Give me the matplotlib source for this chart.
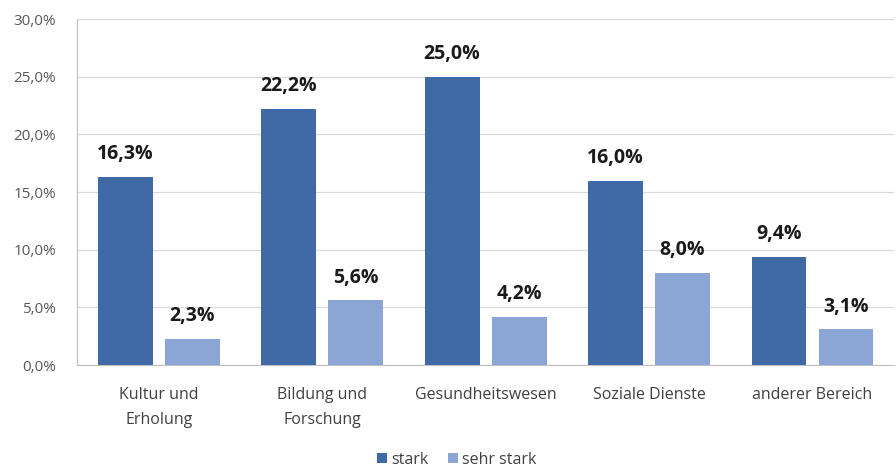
import numpy as np
import matplotlib.pyplot as plt
from matplotlib.ticker import FuncFormatter

plt.rcParams['font.family'] = ['Open Sans', 'DejaVu Sans']

categories = ["Kultur und\nErholung", "Bildung und\nForschung", "Gesundheitswesen",
              "Soziale Dienste", "anderer Bereich"]
stark = [16.3, 22.2, 25.0, 16.0, 9.4]
sehr_stark = [2.3, 5.6, 4.2, 8.0, 3.1]

c_stark = "#3f6aa6"
c_sehr = "#8ba6d4"

fig = plt.figure(figsize=(8.96, 4.68), dpi=100)
ax = fig.add_axes([0.086, 0.22, 0.912, 0.739])

x = np.arange(len(categories))
w = 0.335
off = 0.205
b1 = ax.bar(x - off, stark, w, color=c_stark, label="stark", zorder=3)
b2 = ax.bar(x + off, sehr_stark, w, color=c_sehr, label="sehr stark", zorder=3)

fmt = lambda v: f"{v:.1f}%".replace(".", ",")
for bars, vals in ((b1, stark), (b2, sehr_stark)):
    for r, v in zip(bars, vals):
        ax.text(r.get_x() + r.get_width() / 2, v + 1.1, fmt(v), ha="center", va="bottom",
                fontsize=14, fontweight="bold", color="#1a1a1a")

ax.set_xlim(-0.5, len(categories) - 0.5)
ax.set_ylim(0, 30)
ax.set_yticks(np.arange(0, 31, 5))
ax.yaxis.set_major_formatter(FuncFormatter(lambda v, p: fmt(v)))
ax.set_xticks(x)
ax.set_xticklabels(categories, fontsize=11.5, color="#404040", linespacing=1.7)
ax.tick_params(axis="y", labelsize=11, colors="#595959", length=0, pad=15)
ax.tick_params(axis="x", length=0, pad=16)
ax.grid(axis="y", color="#d9d9d9", linewidth=0.9, zorder=0)
for s in ("top", "right"):
    ax.spines[s].set_visible(False)
ax.spines["left"].set_color("#bfbfbf")
ax.spines["bottom"].set_color("#bfbfbf")

fig.legend(loc="lower center", bbox_to_anchor=(0.51, -0.03), ncol=2, frameon=False,
           fontsize=11.5, handlelength=0.6, handleheight=0.6, handletextpad=0.3,
           columnspacing=1.2, labelcolor="#404040")

fig.savefig("out.png", dpi=100)
